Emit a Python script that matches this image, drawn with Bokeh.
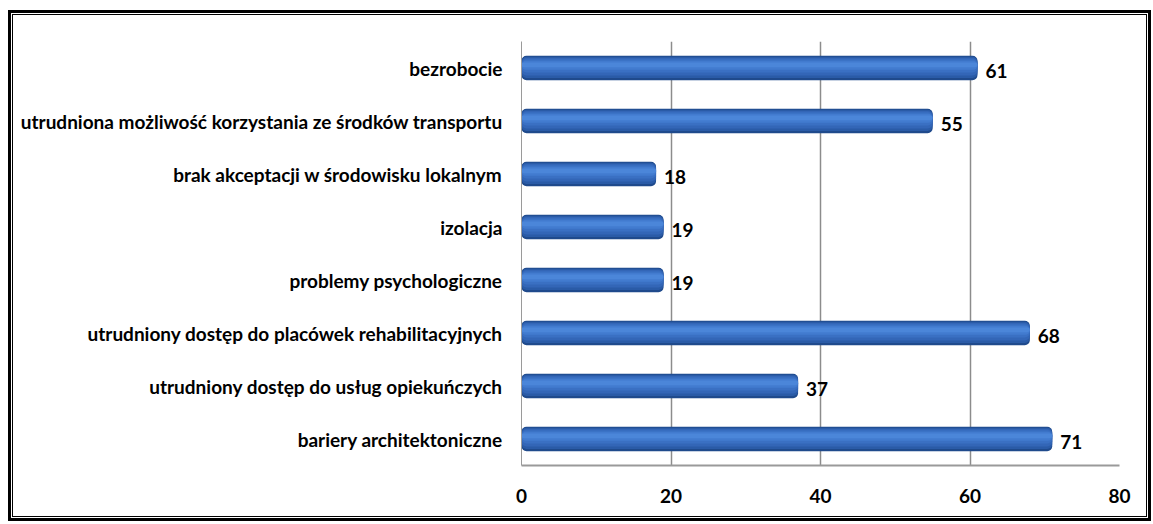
from bokeh.plotting import figure
from bokeh.layouts import column
from bokeh.models import ColumnDataSource, FixedTicker, LabelSet
from bokeh.transform import dodge
from bokeh.core.properties import value
from bokeh.embed import file_html
from bokeh.resources import INLINE

categories = [
    "bariery architektoniczne",
    "utrudniony dostęp do usług opiekuńczych",
    "utrudniony dostęp do placówek rehabilitacyjnych",
    "problemy psychologiczne",
    "izolacja",
    "brak akceptacji w środowisku lokalnym",
    "utrudniona możliwość korzystania ze środków transportu",
    "bezrobocie",
]
values = [71, 37, 68, 19, 19, 18, 55, 61]
x_ticks = [0, 20, 40, 60, 80]

src = ColumnDataSource(dict(cat=categories, val=values, lbl=[str(v) for v in values]))

FONT = "Lato"

p = figure(
    width=1135, height=503,
    y_range=categories, x_range=(0, 80),
    output_backend="svg", toolbar_location=None,
    min_border_left=508, min_border_right=29,
    min_border_top=26, min_border_bottom=53,
    background_fill_color="white", border_fill_color="white",
    styles={"border": "1px solid black"},
)
p.outline_line_color = None

# cylinder-like bars built from stacked layers
layers = [
    (0.00, 0.46, "#1f4a8c"),
    (0.01, 0.40, "#2a5ba7"),
    (0.025, 0.33, "#3366b7"),
    (0.04, 0.25, "#3a70c3"),
    (0.05, 0.17, "#427bcf"),
    (0.06, 0.09, "#4b86d9"),
]
for off, h, col in layers:
    p.hbar(y=dodge("cat", off, range=p.y_range), right="val", left=0, height=h, source=src,
           fill_color=col, line_color=None, border_radius=5)

labels = LabelSet(x="val", y="cat", text="lbl", source=src, x_offset=8, y_offset=-3,
                  text_font=value(FONT), text_font_style="bold", text_font_size="19px",
                  text_color="black", text_baseline="middle", text_align="left")
p.add_layout(labels)

p.xaxis.ticker = FixedTicker(ticks=x_ticks)
p.xaxis.axis_line_color = "#9a9a9a"
p.xaxis.axis_line_width = 2
p.xaxis.major_tick_line_color = None
p.xaxis.minor_tick_line_color = None
p.xaxis.major_label_standoff = 17
p.xaxis.major_label_text_font = FONT
p.xaxis.major_label_text_font_style = "bold"
p.xaxis.major_label_text_font_size = "19px"
p.xaxis.major_label_text_color = "black"

p.yaxis.axis_line_color = "#9a9a9a"
p.yaxis.major_tick_line_color = None
p.yaxis.minor_tick_line_color = None
p.yaxis.major_label_standoff = 13
p.yaxis.major_label_text_font = FONT
p.yaxis.major_label_text_font_style = "bold"
p.yaxis.major_label_text_font_size = "19px"
p.yaxis.major_label_text_color = "black"

p.xgrid.ticker = FixedTicker(ticks=x_ticks)
p.xgrid.grid_line_color = "#8c8c8c"
p.xgrid.grid_line_width = 1.5
p.ygrid.grid_line_color = None

page = column(p, margin=(10, 0, 0, 8),
              styles={"border": "3px solid black", "padding": "1px", "background": "white"})

open("out.html", "w").write(file_html(page, INLINE))
